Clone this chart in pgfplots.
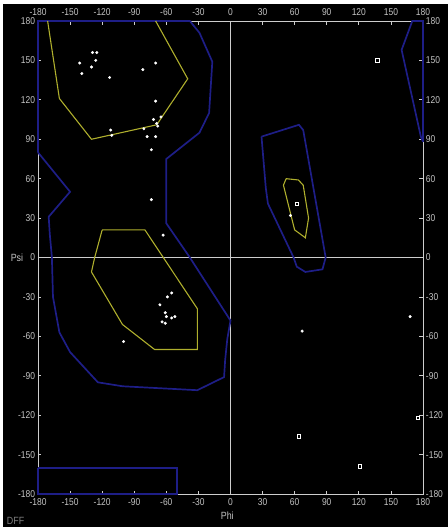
\documentclass[border=0pt]{standalone}
\usepackage{pgfplots}
\pgfplotsset{compat=1.18}
\usepackage{fontspec}
\setmainfont{Liberation Sans}

\definecolor{contourblue}{RGB}{30,30,135}
\definecolor{contouryellow}{RGB}{175,175,45}
\definecolor{framegray}{RGB}{205,205,205}
\definecolor{labelgray}{RGB}{195,195,195}

\pgfplotsset{
  rama/.style={
    at={(0,0)}, anchor=south west,
    scale only axis, width=385bp, height=473bp,
    xmin=-180, xmax=180, ymin=-180, ymax=180,
    xtick={-180,-150,...,180}, ytick={-180,-150,...,180},
    /pgf/number format/assume math mode=true,
    tick label style={font=\fontsize{10}{10}\selectfont, text=labelgray, xscale=0.85},
  },
}

\begin{document}
\begin{tikzpicture}
% page background
\path[use as bounding box, fill=black] (-38bp,-33bp) rectangle (410bp,494bp);
\fill[white] (-38bp,490bp) rectangle (410bp,494bp);
\fill[white] (-38bp,-33bp) rectangle (-35bp,494bp);

\begin{axis}[rama,
  axis line style={framegray, line width=0.9pt},
  tick style={framegray, line width=0.7pt},
  major tick length=3.5bp, tick align=inside,
  xticklabel pos=left, yticklabel pos=left,
  xticklabel style={yshift=-1bp},
  clip=false,
]
% zero lines
\addplot[framegray, line width=0.9pt] coordinates {(0,-180) (0,180)};
\addplot[framegray, line width=0.9pt] coordinates {(-180,0) (180,0)};

% generously allowed regions
\addplot[contourblue, line width=1.7pt] coordinates {
  (-180,80) (-180,180) (-38,180) (-29,171) (-17,149) (-20,110) (-29,95)
  (-60,75) (-60,26) (-38,0) (0,-48) (-3,-62) (-5,-78) (-6,-91) (-31,-101)
  (-101,-98) (-124,-95) (-150,-72) (-160,-57) (-166,-30) (-167,0)
  (-169,18) (-170,31) (-150,50) (-180,80)};
\addplot[contourblue, line width=1.7pt] coordinates {
  (180,88) (180,180) (170,180) (160,158) (178,92) (180,88)};
\addplot[contourblue, line width=1.7pt] coordinates {
  (29,92) (64,101) (68,97) (89,0) (86,-9) (70,-11) (62,-7) (59,0)
  (35,41) (33,53) (29,92)};
\addplot[contourblue, line width=1.7pt] coordinates {
  (-180,-160) (-50,-160) (-50,-180) (-180,-180) (-180,-160)};

% core regions
\addplot[contouryellow, line width=1.1pt] coordinates {
  (-171,180) (-160,121) (-130,90) (-69,101) (-40,136) (-70,180)};
\addplot[contouryellow, line width=1.1pt] coordinates {
  (-120,21) (-80,21) (-31,-39) (-31,-70) (-71,-70) (-101,-51)
  (-130,-11) (-127,0) (-120,21)};
\addplot[contouryellow, line width=1.1pt] coordinates {
  (52,60) (63.5,59) (68,55) (73,30) (70,15) (60,21) (49.5,55) (52,60)};

% residues
\addplot[only marks, mark=*, mark size=1.3bp, white] coordinates {
  (-129,156) (-125,156) (-126,150) (-141,148) (-139,140) (-130,145)
  (-113,137) (-82,143) (-70,148) (-70,119) (-65,107) (-72,105)
  (-69,102) (-68,100) (-81,98) (-112,97) (-111,93) (-78,92) (-70,92)
  (-74,82) (-74,44) (-63,17)
  (-55,-27) (-59,-30) (-66,-36) (-61,-42) (-60,-45) (-55,-46) (-52,-45)
  (-64,-49) (-61,-50) (-100,-64)
  (56,32) (67,-56) (168,-45)};
% glycines
\addplot[only marks, mark=square, mark size=1.8bp, white, line width=0.6pt] coordinates {
  (62,41) (137,150) (64,-136) (121,-159) (175,-122)};

\node[text=labelgray, font=\fontsize{10.5}{10.5}\selectfont, xscale=0.85]
  at (axis cs:-3,-180) [below=14bp] {Phi};
\node[text=labelgray, font=\fontsize{10.5}{10.5}\selectfont, xscale=0.85, anchor=east]
  at (axis cs:-180,0) [xshift=-14bp] {Psi};
\end{axis}

\begin{axis}[rama,
  axis line style={draw=none},
  major tick length=0pt,
  xticklabel pos=right, yticklabel pos=right,
  xticklabel style={yshift=1.5bp},
]
\end{axis}

\node[text=gray, font=\fontsize{10.5}{10.5}\selectfont, xscale=0.85, anchor=west]
  at (-34bp,-27bp) {DFF};
\end{tikzpicture}
\end{document}
